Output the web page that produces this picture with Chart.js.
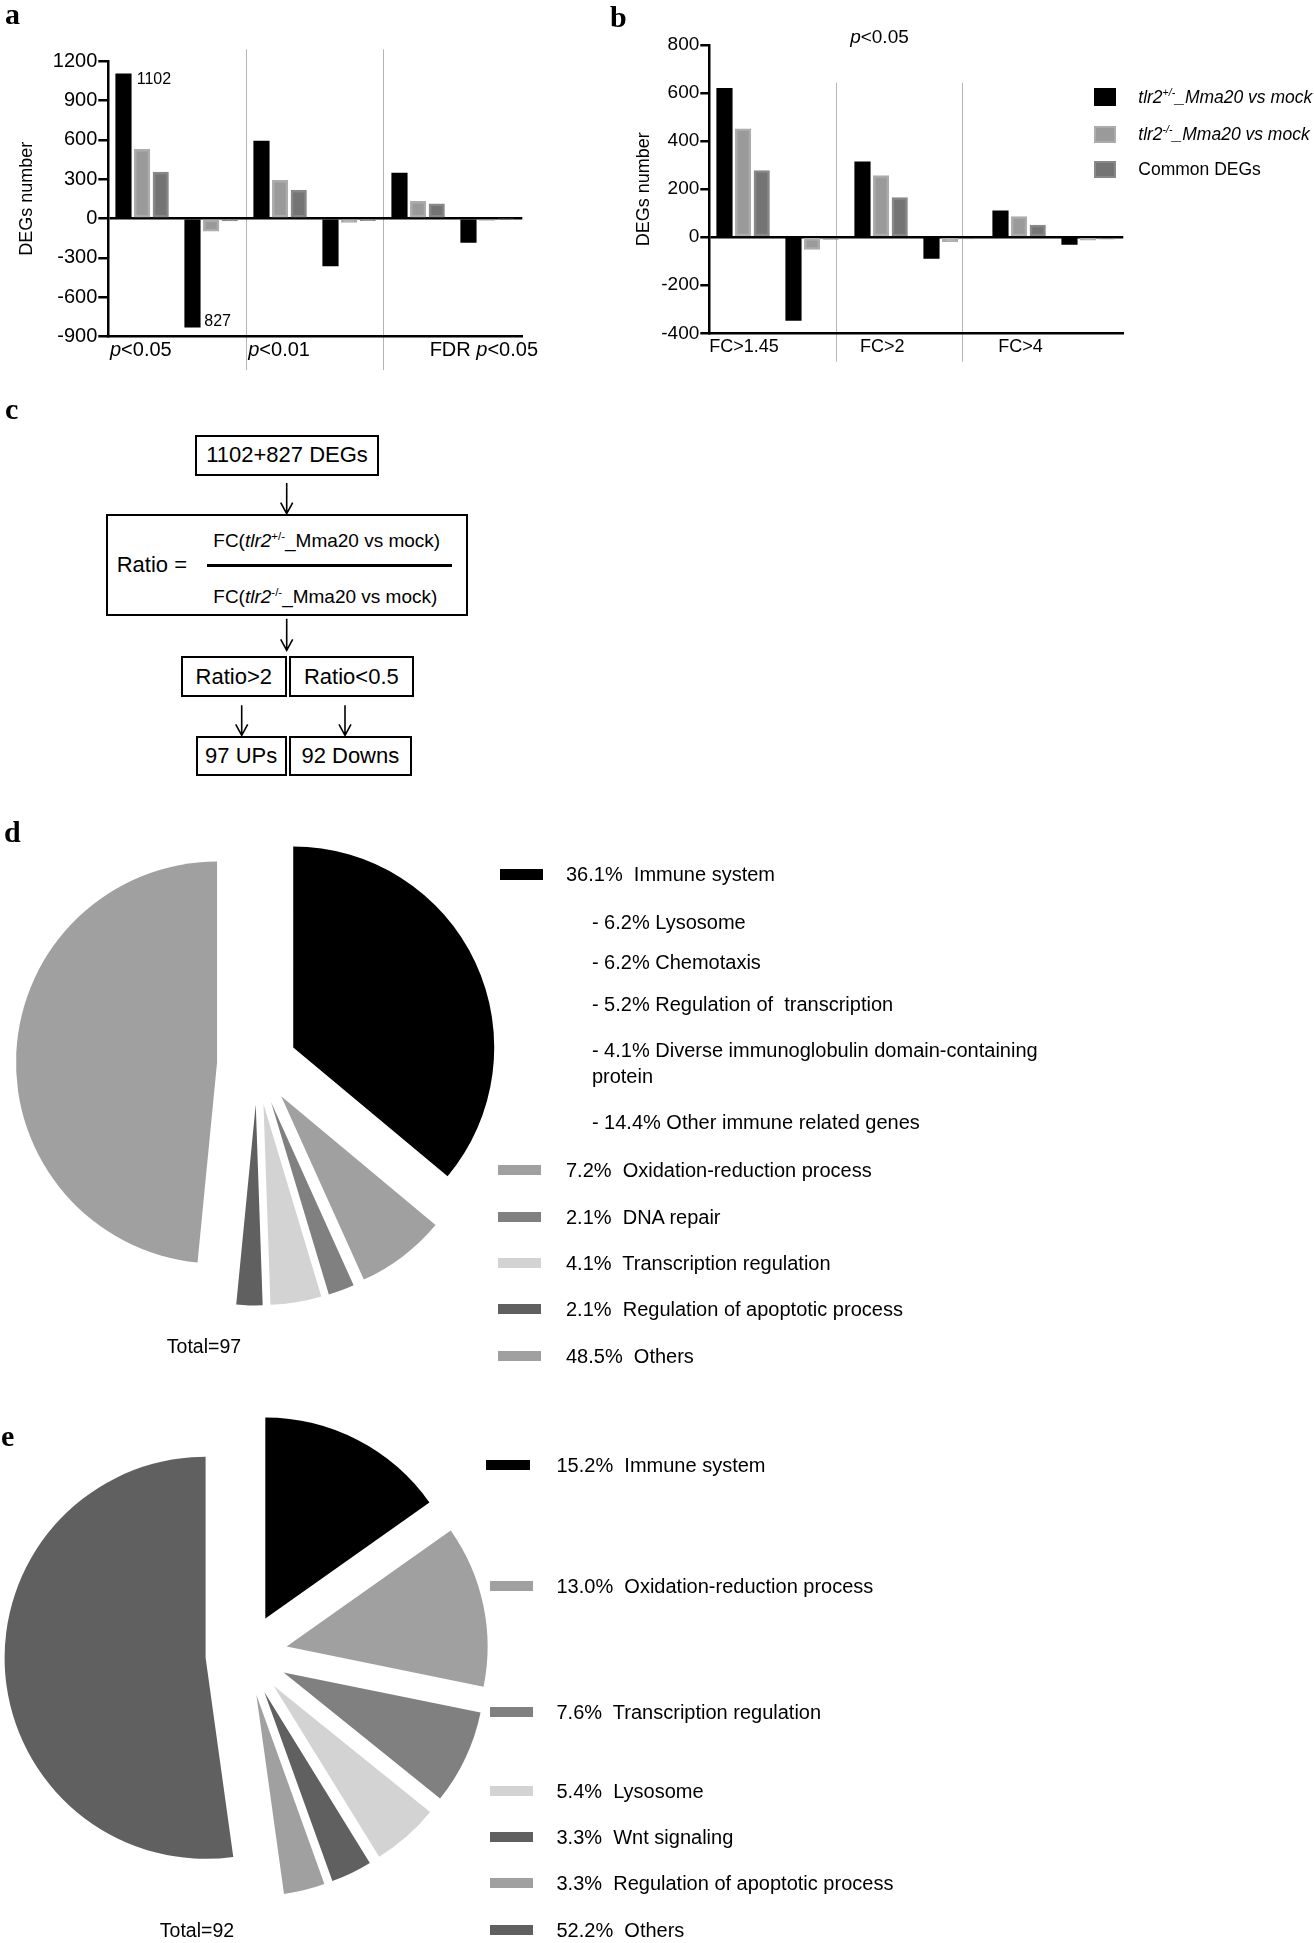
<!DOCTYPE html>
<html>
<head>
<meta charset="utf-8">
<script src="https://cdn.jsdelivr.net/npm/chart.js@4.4.1/dist/chart.umd.min.js"></script>
<style>
html, body { margin: 0; padding: 0; background: #fff; }
#page { position: relative; width: 1314px; height: 1943px; overflow: hidden; background: #fff;
        font-family: "Liberation Sans", Arial, Helvetica, sans-serif; color: #000; }
#page canvas { position: absolute; }
.abs { position: absolute; white-space: nowrap; }
.plabel { position: absolute; font-family: "Liberation Serif", "Times New Roman", serif; font-weight: bold;
          font-size: 30px; line-height: 30px; }
.box { position: absolute; box-sizing: border-box; border: 2px solid #000; display: flex;
       align-items: center; justify-content: center; font-size: 22px; white-space: nowrap; }
.sup { font-size: 0.6em; position: relative; top: -0.6em; }
.sw { position: absolute; box-sizing: border-box; }
</style>
</head>
<body>
<div id="page">
  <canvas id="chartA" width="560" height="380" style="left:0px;top:0px;width:560px;height:380px"></canvas>
  <canvas id="chartB" width="520" height="380" style="left:620px;top:0px;width:520px;height:380px"></canvas>
  <canvas id="chartD" width="514" height="493" style="left:0px;top:818px;width:514px;height:493px"></canvas>
  <canvas id="chartE" width="493" height="492" style="left:0px;top:1409px;width:493px;height:492px"></canvas>
</div>
<script>
// ================= DATA =================
// Panel a: DEG numbers under three significance cut-offs
const panelACategories = ['p<0.05', 'p<0.01', 'FDR p<0.05'];
const panelATickValues = [-900, -600, -300, 0, 300, 600, 900, 1200];
const panelAHetUp      = [1102, 590, 346];
const panelAKoUp       = [527, 292, 132];
const panelACommonUp   = [353, 214, 112];
const panelAHetDown    = [-827, -361, -181];
const panelAKoDown     = [-97, -30, -15];
const panelACommonDown = [-18, -16, -2];

// Panel b: DEG numbers under fold-change cut-offs (p<0.05)
const panelBTitle = 'p<0.05';
const panelBCategories = ['FC>1.45', 'FC>2', 'FC>4'];
const panelBTickValues = [-400, -200, 0, 200, 400, 600, 800];
const panelBHetUp      = [620, 314, 110];
const panelBKoUp       = [451, 257, 86];
const panelBCommonUp   = [277, 165, 50];
const panelBHetDown    = [-346, -88, -30];
const panelBKoDown     = [-51, -19, -12];
const panelBCommonDown = [-9, -7, -8];

const seriesNames = ['tlr2+/-_Mma20 vs mock', 'tlr2-/-_Mma20 vs mock', 'Common DEGs'];

// Panel c: flow chart numbers
const flowUpDEGs = 1102;
const flowDownDEGs = 827;
const ratioHigh = 2;
const ratioLow = 0.5;
const upCount = 97;
const downCount = 92;

// Panel d: 97 up genes
const upCategories = ['Immune system', 'Oxidation-reduction process', 'DNA repair',
                      'Transcription regulation', 'Regulation of apoptotic process', 'Others'];
const upPercents = [36.1, 7.2, 2.1, 4.1, 2.1, 48.5];
const immuneSubCategories = ['Lysosome', 'Chemotaxis', 'Regulation of  transcription',
                             'Diverse immunoglobulin domain-containing protein', 'Other immune related genes'];
const immuneSubPercents = [6.2, 6.2, 5.2, 4.1, 14.4];

// Panel e: 92 down genes
const downCategories = ['Immune system', 'Oxidation-reduction process', 'Transcription regulation',
                        'Lysosome', 'Wnt signaling', 'Regulation of apoptotic process', 'Others'];
const downPercents = [15.2, 13.0, 7.6, 5.4, 3.3, 3.3, 52.2];

// ================= STYLE / LAYOUT =================
const FONT = '"Liberation Sans", Arial, Helvetica, sans-serif';
const seriesFill = ['#000000', '#9a9a9a', '#747474'];
const seriesEdge = ['#000000', '#acacac', '#888888'];
const slotCenters = [0.11, 0.245, 0.38, 0.61, 0.745, 0.88];   // bar slots within one group (fraction of group)
const upColors = ['#000000', '#a0a0a0', '#808080', '#d3d3d3', '#606060', '#a0a0a0'];
const downColors = ['#000000', '#a0a0a0', '#808080', '#d3d3d3', '#606060', '#a0a0a0', '#606060'];

Chart.defaults.font.family = FONT;
Chart.defaults.color = '#000';

// exploded pie slices: translate every arc by its full offset along its mid angle, keep radius
const ArcEl = Chart.registry.getElement('arc');
const baseArcDraw = ArcEl.prototype.draw;
ArcEl.prototype.draw = function (ctx) {
  const off = (this.options && this.options.offset) || 0;
  if (!off) return baseArcDraw.call(this, ctx);
  const saved = this.options;
  const mid = (this.startAngle + this.endAngle) / 2;
  ctx.save();
  ctx.translate(Math.cos(mid) * off, Math.sin(mid) * off);
  this.options = Object.assign({}, saved, { offset: 0 });
  baseArcDraw.call(this, ctx);
  this.options = saved;
  ctx.restore();
};

function richSegments(label) {
  return label.split(/(\bp(?=<))/).filter(Boolean).map(t => ({ t, italic: t === 'p' }));
}
function drawRich(ctx, segs, x, y, align, size) {
  const fonts = segs.map(s => (s.italic ? 'italic ' : '') + size + 'px ' + FONT);
  let total = 0;
  segs.forEach((s, k) => { ctx.font = fonts[k]; total += ctx.measureText(s.t).width; });
  let cx = align === 'right' ? x - total : (align === 'center' ? x - total / 2 : x);
  ctx.textAlign = 'left';
  ctx.textBaseline = 'middle';
  segs.forEach((s, k) => { ctx.font = fonts[k]; ctx.fillText(s.t, cx, y); cx += ctx.measureText(s.t).width; });
}

function makeDecor(p) {
  return {
    id: 'barDecor',
    beforeDraw(chart) {
      const { ctx, chartArea: a, scales: { x } } = chart;
      ctx.save();
      ctx.strokeStyle = '#b5b5b5';
      ctx.lineWidth = 1;
      p.dividers.forEach(v => {
        const px = Math.round(x.getPixelForValue(v)) + 0.5;
        ctx.beginPath();
        ctx.moveTo(px, a.top + p.dividerTop);
        ctx.lineTo(px, a.bottom + p.dividerBottom);
        ctx.stroke();
      });
      ctx.restore();
    },
    afterDraw(chart) {
      const { ctx, chartArea: a, scales: { x } } = chart;
      ctx.save();
      ctx.fillStyle = '#000';
      p.categories.forEach((lab, i) =>
        drawRich(ctx, richSegments(lab), x.getPixelForValue(p.labelAt[i]), a.bottom + p.labelGap, p.labelAlign[i], p.labelSize));
      if (p.title) {
        drawRich(ctx, richSegments(p.title), x.getPixelForValue(p.titleAt), a.top + p.titleGap, 'center', p.titleSize);
      }
      (p.valueLabels || []).forEach(vl => {
        const el = chart.getDatasetMeta(vl.dataset).data[vl.index];
        const v = Math.abs(chart.data.datasets[vl.dataset].data[vl.index].y);
        ctx.font = '16px ' + FONT;
        ctx.textAlign = 'left';
        ctx.textBaseline = 'middle';
        ctx.fillText(String(v), el.x + el.width / 2 + vl.dx, el.y + vl.dy);
      });
      ctx.restore();
    }
  };
}

function buildBarChart(canvasId, p) {
  const lists = [p.hetUp, p.koUp, p.commonUp, p.hetDown, p.koDown, p.commonDown];
  const datasets = lists.map((vals, s) => ({
    label: seriesNames[s % 3],
    data: vals.map((v, g) => ({ x: g + slotCenters[s], y: v })),
    backgroundColor: seriesFill[s % 3],
    borderColor: seriesEdge[s % 3],
    borderWidth: s % 3 === 0 ? 0 : 2.5,
    borderSkipped: false,
    barThickness: 15.5,
    maxBarThickness: 15.5,
    grouped: false
  }));
  return new Chart(document.getElementById(canvasId), {
    type: 'bar',
    data: { datasets },
    options: {
      responsive: false,
      animation: false,
      events: [],
      layout: { padding: { left: 0, top: p.area.top, right: p.w - p.area.right, bottom: 0 } },
      plugins: { legend: { display: false }, tooltip: { enabled: false } },
      scales: {
        x: {
          type: 'linear', min: 0, max: p.categories.length, offset: false,
          afterFit: s => { s.height = p.h - p.area.bottom; },
          ticks: { display: false, stepSize: 1 },
          grid: { display: true, offset: false, color: 'rgba(0,0,0,0)', drawTicks: false },
          border: { display: true, color: '#000', width: 2.5 }
        },
        y: {
          type: 'linear', min: p.ticks[0], max: p.ticks[p.ticks.length - 1],
          afterFit: s => { s.width = p.area.left; },
          afterBuildTicks: s => { s.ticks = p.ticks.map(v => ({ value: v })); },
          ticks: { color: '#000', font: { size: p.tickSize }, padding: 1, callback: v => String(v) },
          grid: {
            color: c => (c.tick && c.tick.value === 0) ? '#000' : 'rgba(0,0,0,0)',
            lineWidth: 2.5, tickLength: p.tickLen, tickColor: '#000', tickWidth: 2.5
          },
          border: { display: true, color: '#000', width: 2.5 },
          title: { display: true, text: 'DEGs number', color: '#000', font: { size: 18 },
                   padding: { top: p.titlePad, bottom: 0 } }
        }
      }
    },
    plugins: [makeDecor(p)]
  });
}

// ---- panel a
buildBarChart('chartA', {
  w: 560, h: 380, area: { left: 108.3, top: 61, right: 522.3, bottom: 336.7 },
  categories: panelACategories, ticks: panelATickValues, tickSize: 20, tickLen: 10, titlePad: 16,
  hetUp: panelAHetUp, koUp: panelAKoUp, commonUp: panelACommonUp,
  hetDown: panelAHetDown, koDown: panelAKoDown, commonDown: panelACommonDown,
  dividers: [0.996, 1.993], dividerTop: -11.7, dividerBottom: 33.3,
  labelAt: [0.012, 1.014, 3.114], labelAlign: ['left', 'left', 'right'], labelGap: 13.5, labelSize: 20,
  valueLabels: [{ dataset: 0, index: 0, dx: 5.5, dy: 6 }, { dataset: 3, index: 0, dx: 4, dy: -6 }]
});

// ---- panel b
buildBarChart('chartB', {
  w: 520, h: 380, area: { left: 89.3, top: 45, right: 503.3, bottom: 333.3 },
  categories: panelBCategories, ticks: panelBTickValues, tickSize: 19, tickLen: 9, titlePad: 13,
  hetUp: panelBHetUp, koUp: panelBKoUp, commonUp: panelBCommonUp,
  hetDown: panelBHetDown, koDown: panelBKoDown, commonDown: panelBCommonDown,
  dividers: [0.916, 1.833], dividerTop: 37.7, dividerBottom: 28.4,
  labelAt: [0, 1.092, 2.094], labelAlign: ['left', 'left', 'left'], labelGap: 13.4, labelSize: 18,
  title: panelBTitle, titleAt: 1.233, titleGap: -7.5, titleSize: 19
});

// ---- pies d and e
function buildPie(canvasId, labels, values, colors, explode) {
  return new Chart(document.getElementById(canvasId), {
    type: 'pie',
    data: { labels, datasets: [{ data: values, backgroundColor: colors, borderWidth: 0, offset: explode, hoverOffset: 0 }] },
    options: {
      responsive: false, animation: false, events: [], radius: 201,
      layout: { padding: 0 },
      plugins: { legend: { display: false }, tooltip: { enabled: false } }
    }
  });
}
buildPie('chartD', upCategories, upPercents, upColors, 40);
buildPie('chartE', downCategories, downPercents, downColors, 41);

// ================= HTML TEXT / DIAGRAM =================
const page = document.getElementById('page');
const esc = s => s.replace(/&/g, '&amp;').replace(/</g, '&lt;').replace(/>/g, '&gt;');
const genoHTML = s => esc(s).replace(/tlr2([+\-]\/-)/, '<i>tlr2</i><span class="sup">$1</span>');

function addText(html, left, cy, size, extra) {
  const d = document.createElement('div');
  d.className = 'abs';
  d.style.left = left + 'px';
  d.style.top = (cy - size * 0.6) + 'px';
  d.style.fontSize = size + 'px';
  d.style.lineHeight = (size * 1.2) + 'px';
  if (extra) Object.assign(d.style, extra);
  d.innerHTML = html;
  page.appendChild(d);
  return d;
}
function addPanelLabel(ch, left, baseline) {
  const d = document.createElement('div');
  d.className = 'plabel';
  d.style.left = left + 'px';
  d.style.top = (baseline - 25.1) + 'px';
  d.textContent = ch;
  page.appendChild(d);
}
function addBox(left, top, w, h, html) {
  const d = document.createElement('div');
  d.className = 'box';
  Object.assign(d.style, { left: left + 'px', top: top + 'px', width: w + 'px', height: h + 'px' });
  d.innerHTML = html;
  page.appendChild(d);
}
function addSwatch(left, cy, w, h, fill, edge) {
  const d = document.createElement('div');
  d.className = 'sw';
  Object.assign(d.style, { left: left + 'px', top: (cy - h / 2) + 'px', width: w + 'px', height: h + 'px', background: fill });
  if (edge) d.style.border = '2px solid ' + edge;
  page.appendChild(d);
}

addPanelLabel('a', 5, 24);
addPanelLabel('b', 610, 27);
addPanelLabel('c', 5, 419);
addPanelLabel('d', 4, 842);
addPanelLabel('e', 1, 1446);

// legend panel b
const legendBRowY = [97.2, 134.2, 169];
seriesNames.forEach((name, s) => {
  addSwatch(1094.3, legendBRowY[s], 22, s === 0 ? 18 : 17, seriesFill[s], s === 0 ? null : seriesEdge[s]);
  const html = name.startsWith('tlr2') ? '<i>' + genoHTML(name) + '</i>' : esc(name);
  addText(html, 1138.3, legendBRowY[s], 17.5);
});

// panel c flow chart
addBox(195, 434.7, 184, 41.6, esc(`${flowUpDEGs}+${flowDownDEGs} DEGs`));
addBox(105.7, 514.3, 362.6, 102.2, '');
addText('Ratio =', 116.7, 565.3, 22);
const frac = document.createElement('div');
Object.assign(frac.style, { position: 'absolute', left: '206.7px', top: '564px', width: '245.6px', height: '3px', background: '#000' });
page.appendChild(frac);
addText('FC(' + genoHTML(seriesNames[0]) + ')', 213.3, 541.3, 19);
addText('FC(' + genoHTML(seriesNames[1]) + ')', 213.3, 597, 19);
addBox(181, 656.3, 105.7, 40.7, esc(`Ratio>${ratioHigh}`));
addBox(288.7, 656.3, 125.3, 40.7, esc(`Ratio<${ratioLow}`));
addBox(195.7, 736, 91, 40.3, esc(`${upCount} UPs`));
addBox(288.7, 736, 123.3, 40.3, esc(`${downCount} Downs`));

const svgNS = 'http://www.w3.org/2000/svg';
const svg = document.createElementNS(svgNS, 'svg');
svg.setAttribute('width', '1314');
svg.setAttribute('height', '1943');
Object.assign(svg.style, { position: 'absolute', left: '0px', top: '0px', pointerEvents: 'none' });
[[286.7, 483, 513.7], [286.7, 618.7, 650.3], [241.7, 705.3, 735.3], [345, 705.3, 735.3]].forEach(([x, y1, y2]) => {
  const path = document.createElementNS(svgNS, 'path');
  path.setAttribute('d', `M${x},${y1} L${x},${y2} M${x - 6},${y2 - 11} L${x},${y2} L${x + 6},${y2 - 11}`);
  path.setAttribute('stroke', '#000');
  path.setAttribute('stroke-width', '1.6');
  path.setAttribute('fill', 'none');
  svg.appendChild(path);
});
page.appendChild(svg);

// legend panel d
const legendDRowY = [874, 1170, 1217, 1263, 1309, 1356];
const legendDSubY = [922, 962, 1004, 1050, 1122];
upCategories.forEach((name, i) => {
  addSwatch(i === 0 ? 499.8 : 497.8, legendDRowY[i], i === 0 ? 43 : 43.5, i === 0 ? 11 : 10, upColors[i]);
  addText(esc(`${upPercents[i].toFixed(1)}%  ${name}`), 566, legendDRowY[i], 20, { whiteSpace: 'pre' });
});
immuneSubCategories.forEach((name, j) => {
  const d = document.createElement('div');
  d.className = 'abs';
  Object.assign(d.style, { left: '591.9px', top: (legendDSubY[j] - 13) + 'px', width: '470px', fontSize: '20px',
                           lineHeight: '26px', whiteSpace: 'pre-wrap' });
  d.textContent = `- ${immuneSubPercents[j].toFixed(1)}% ${name}`;
  page.appendChild(d);
});
addText(esc(`Total=${upCount}`), 204, 1347, 19.5, { transform: 'translateX(-50%)' });

// legend panel e
const legendERowY = [1465, 1585.7, 1712.3, 1791.3, 1837.2, 1883.2, 1929.8];
downCategories.forEach((name, i) => {
  addSwatch(i === 0 ? 486 : 490, legendERowY[i], i === 0 ? 44 : 43.3, 10, downColors[i]);
  addText(esc(`${downPercents[i].toFixed(1)}%  ${name}`), 556.5, legendERowY[i], 20, { whiteSpace: 'pre' });
});
addText(esc(`Total=${downCount}`), 197, 1931, 19.5, { transform: 'translateX(-50%)' });
</script>
</body>
</html>
